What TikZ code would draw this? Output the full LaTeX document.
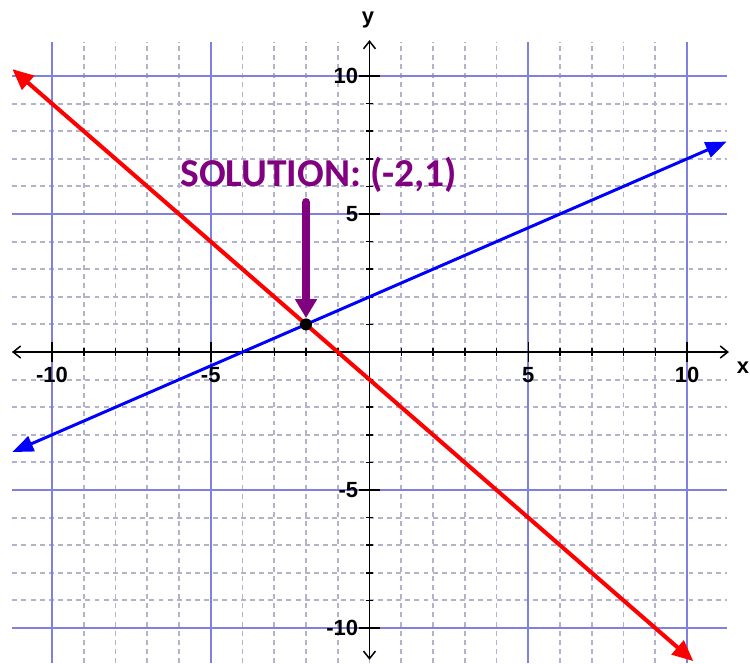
\documentclass[tikz,border=0pt]{standalone}
\usepackage{fontspec}
\setmainfont{Liberation Sans}
\newfontfamily\solfont{Carlito}
\usetikzlibrary{arrows.meta}

\definecolor{gridmaj}{RGB}{128,128,224}
\definecolor{gridmin}{RGB}{178,178,205}
\definecolor{solviola}{RGB}{128,0,128}

\begin{document}
\begin{tikzpicture}[x=0.635cm, y=0.552cm,
    griglia/.style={gridmin, line width=1.1pt, dash pattern=on 2.8pt off 2.4pt},
    grigliamag/.style={gridmaj, line width=1.1pt},
    asse/.style={line width=0.85pt, {Straight Barb[length=0.15cm,width=0.24cm]}-{Straight Barb[length=0.15cm,width=0.24cm]}},
    etich/.style={font=\fontsize{12.5}{12.5}\bfseries\selectfont, inner sep=0pt}]
    \useasboundingbox (-11.638,-11.268) rectangle (11.984,12.754);

    % Griglia
    \foreach \i in {-10,...,10} {
        \draw[griglia] (\i,-11.27) -- (\i,11.25);
        \draw[griglia] (-11.25,\i) -- (11.25,\i);
    }
    \foreach \i in {-10,-5,5,10} {
        \draw[grigliamag] (\i,-11.27) -- (\i,11.25);
        \draw[grigliamag] (-11.25,\i) -- (11.25,\i);
    }

    % Assi
    \coordinate (xs) at (-11.26,0);
    \coordinate (xd) at (11.32,0);
    \coordinate (yg) at (0,-11.15);
    \coordinate (ys) at (0,11.3);
    \draw[asse] (xs) -- (xd);
    \draw[asse] (yg) -- (ys);
    \node[etich] (lx) at (11.76,-0.58) {x};
    \node[etich] (ly) at (-0.05,12.03) {y};

    % Tacche
    \foreach \i in {-9,...,-1,1,2,...,9} {
        \draw[line width=0.85pt] (\i,0) ++(0,-2.2pt) -- ++(0,4.4pt);
        \draw[line width=0.85pt] (0,\i) ++(-2.2pt,0) -- ++(4.4pt,0);
    }
    \foreach \v in {-10,-5,5,10} {
        \draw[line width=0.85pt] (\v,0) ++(0,-5.7pt) -- ++(0,11.4pt);
        \draw[line width=0.85pt] (0,\v) ++(-5.7pt,0) -- ++(11.4pt,0);
        \node[etich] (nx\v) at (\v,-0.83) {\v};
        \node[etich, anchor=east] (ny\v) at (-0.35,\v) {\v};
    }

    % Rette
    \coordinate (b1) at (-11.25,-3.625);
    \coordinate (b2) at (11.25,7.625);
    \coordinate (r1) at (-11.25,10.25);
    \coordinate (r2) at (10.2,-11.2);
    \draw[blue, line width=1.7pt, {Triangle[length=0.42cm,width=0.32cm]}-{Triangle[length=0.42cm,width=0.32cm]}] (b1) -- (b2);
    \draw[red, line width=2.3pt, {Triangle[length=0.42cm,width=0.36cm]}-{Triangle[length=0.42cm,width=0.36cm]}] (r1) -- (r2);

    % Soluzione
    \node[circle, fill=black, inner sep=0pt, minimum size=0.24cm] (p) at (-2,1) {};
    \node[font=\solfont\fontsize{22.5}{22.5}\bfseries\selectfont, text=solviola, anchor=base west, inner sep=0pt] (sol) at (-5.97,6.01) {SOLUTION: (-2,1)};
    \coordinate (fr) at (-2,5.42);
    \draw[solviola, line width=5pt, line cap=round, -{Triangle[length=0.38cm,width=0.42cm]}] (fr) -- (p);
\end{tikzpicture}
\end{document}
